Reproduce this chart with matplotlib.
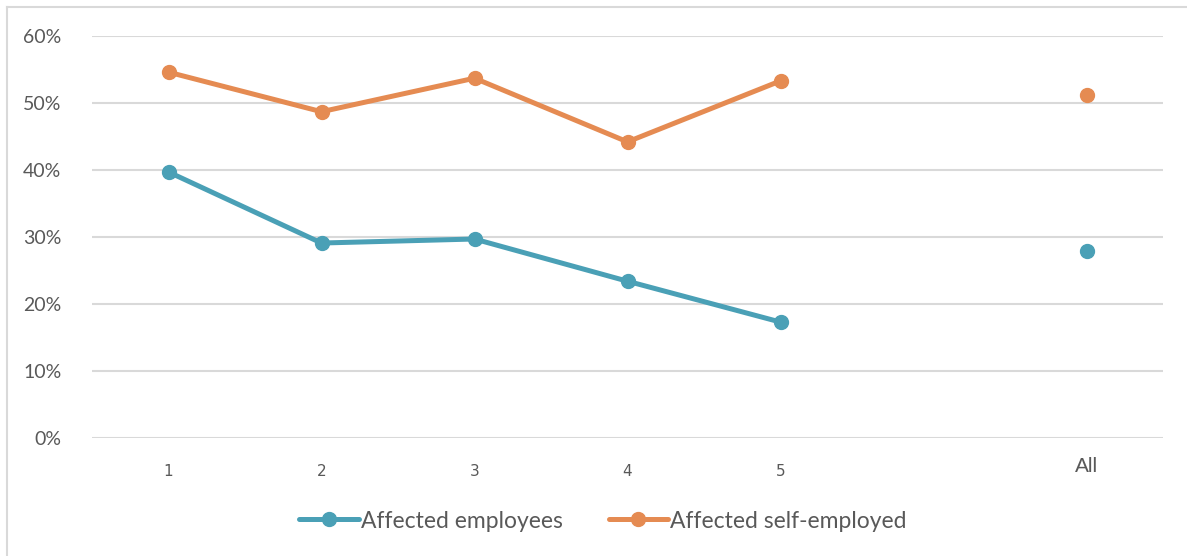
import matplotlib
matplotlib.use("Agg")
import matplotlib.pyplot as plt
import numpy as np
from matplotlib.lines import Line2D
from matplotlib.ticker import FuncFormatter, MultipleLocator

categories = ["1", "2", "3", "4", "5", "", "All"]
employees = [39.7, 29.1, 29.7, 23.4, 17.3, np.nan, 27.9]
self_employed = [54.6, 48.7, 53.7, 44.2, 53.3, np.nan, 51.2]

BLUE = "#4aa0b6"
ORANGE = "#e58b52"
TEXT = "#595959"
GRID = "#d9d9d9"

fig = plt.figure(figsize=(11.87, 5.56), dpi=100)
ax = fig.add_axes([92 / 1187, 118 / 556, (1163 - 92) / 1187, (438 - 36) / 556])

x = np.arange(len(categories))
ax.plot(x, employees, color=BLUE, lw=3.6, marker="o", ms=10,
        solid_capstyle="round", label="Affected employees", zorder=3)
ax.plot(x, self_employed, color=ORANGE, lw=3.6, marker="o", ms=10,
        solid_capstyle="round", label="Affected self-employed", zorder=3)

ax.set_xlim(-0.5, len(categories) - 0.5)
ax.set_ylim(0, 60)
ax.yaxis.set_major_locator(MultipleLocator(10))
ax.yaxis.set_major_formatter(FuncFormatter(lambda v, _: f"{v:.0f}%"))
ax.grid(axis="y", color=GRID, lw=1.5)
ax.set_axisbelow(True)
for s in ax.spines.values():
    s.set_visible(False)
ax.tick_params(length=0)
ax.tick_params(axis="y", pad=22, labelsize=14, labelcolor=TEXT)
for lab in ax.get_yticklabels():
    lab.set_fontfamily("Lato")

ax.set_xticks(x)
ax.set_xticklabels(categories)
ax.tick_params(axis="x", pad=19, labelcolor=TEXT)
for lab in ax.get_xticklabels():
    lab.set_fontfamily("DejaVu Sans")
    lab.set_fontsize(11)
    if lab.get_text() == "All":
        lab.set_fontfamily("Liberation Sans")
        lab.set_fontsize(15)
        lab.set_y(0.018)

leg = fig.legend(loc="center", bbox_to_anchor=(603 / 1187, 1 - 521 / 556), ncol=2,
                 frameon=False, handlelength=2.6, columnspacing=2.0,
                 handletextpad=0.1, prop={"family": "Lato", "size": 16.5})
for t in leg.get_texts():
    t.set_color(TEXT)

# thin frame on the left and top edges
fig.add_artist(Line2D([7 / 1187, 7 / 1187], [0, 1 - 7 / 556], color=GRID, lw=1.5,
                      transform=fig.transFigure))
fig.add_artist(Line2D([7 / 1187, 1], [1 - 7 / 556, 1 - 7 / 556], color=GRID, lw=1.5,
                      transform=fig.transFigure))

fig.savefig("out.png", dpi=100)
